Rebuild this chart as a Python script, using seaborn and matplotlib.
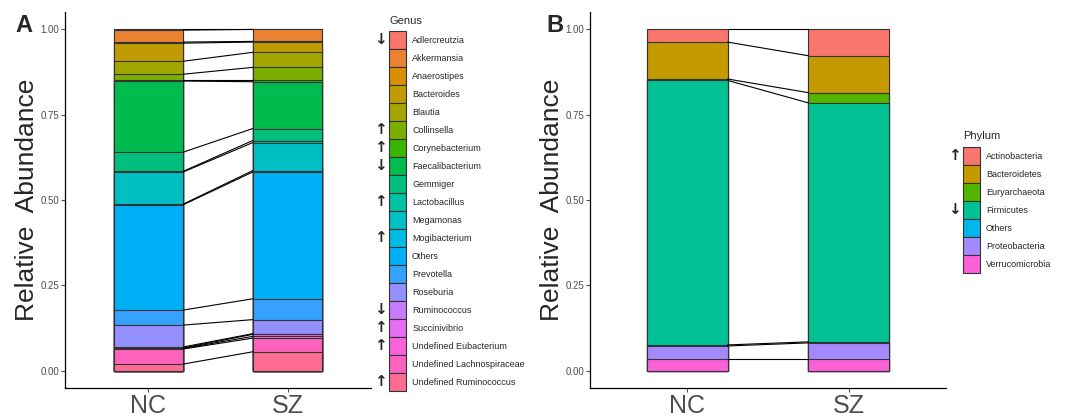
import numpy as np
import pandas as pd
import seaborn as sns
from matplotlib import pyplot as plt
from matplotlib.patches import Patch

sns.set_style('ticks')
plt.rcParams['font.family'] = ['Liberation Sans', 'DejaVu Sans']

groups = ['NC', 'SZ']

# genus level (legend order = stacking order from top)
genus = ['Adlercreutzia', 'Akkermansia', 'Anaerostipes', 'Bacteroides', 'Blautia',
         'Collinsella', 'Corynebacterium', 'Faecalibacterium', 'Gemmiger', 'Lactobacillus',
         'Megamonas', 'Mogibacterium', 'Others', 'Prevotella', 'Roseburia',
         'Ruminococcus', 'Succinivibrio', 'Undefined Eubacterium',
         'Undefined Lachnospiraceae', 'Undefined Ruminococcus']
genus_nc = [0.003, 0.035, 0.003, 0.053, 0.038, 0.018, 0.002, 0.208, 0.056, 0.002,
            0.094, 0.002, 0.308, 0.044, 0.064, 0.003, 0.001, 0.002, 0.044, 0.020]
genus_sz = [0.001, 0.035, 0.002, 0.030, 0.044, 0.038, 0.004, 0.137, 0.035, 0.006,
            0.082, 0.004, 0.371, 0.061, 0.041, 0.002, 0.006, 0.005, 0.040, 0.056]
genus_arrow = ['↓', '', '', '', '', '↑', '↑', '↓', '', '↑',
               '', '↑', '', '', '', '↓', '↑', '↑', '', '↑']

# phylum level
phylum = ['Actinobacteria', 'Bacteroidetes', 'Euryarchaeota', 'Firmicutes',
          'Others', 'Proteobacteria', 'Verrucomicrobia']
phylum_nc = [0.038, 0.108, 0.004, 0.774, 0.003, 0.038, 0.035]
phylum_sz = [0.078, 0.108, 0.030, 0.699, 0.003, 0.047, 0.035]
phylum_arrow = ['↑', '', '', '↓', '', '', '']

# ggplot default hue palettes
genus_colors = ['#F8766D', '#EA8331', '#D89000', '#C09B00', '#A3A500', '#7CAE00', '#39B600',
                '#00BB4E', '#00BF7D', '#00C1A3', '#00BFC4', '#00BAE0', '#00B0F6', '#35A2FF',
                '#9590FF', '#C77CFF', '#E76BF3', '#FA62DB', '#FF62BC', '#FF6C91']
phylum_colors = ['#F8766D', '#C49A00', '#53B400', '#00C094', '#00B6EB', '#A58AFF', '#FB61D7']

edge = '#333333'
grey = '#4D4D4D'


def stacked(ax, names, nc, sz, colors):
    df = pd.DataFrame({'taxon': names * 2,
                       'group': ['NC'] * len(names) + ['SZ'] * len(names),
                       'abundance': nc + sz})
    # cumulative top of each segment (first level sits on top, like ggplot)
    df['top'] = df.iloc[::-1].groupby('group')['abundance'].cumsum()
    for name, col in zip(names, colors):
        sub = df[df['taxon'] == name]
        sns.barplot(data=sub, x='group', y='top', order=groups, color=col,
                    saturation=1, width=0.5, edgecolor=edge, linewidth=0.8,
                    errorbar=None, ax=ax)
    for name in names:
        sub = df[df['taxon'] == name].set_index('group')['top']
        ax.plot([0.25, 0.75], [sub['NC'], sub['SZ']], color='black', lw=0.8, zorder=3)

    ax.set_xlim(-0.6, 1.6)
    ax.set_ylim(-0.05, 1.05)
    ax.set_yticks([0, 0.25, 0.5, 0.75, 1.0])
    ax.set_yticklabels(['0.00', '0.25', '0.50', '0.75', '1.00'])
    ax.set_xlabel('')
    ax.set_ylabel('Relative  Abundance', fontsize=19, labelpad=1)
    ax.tick_params(axis='y', labelsize=7, labelcolor=grey, color=grey, length=3, width=0.8, pad=1)
    ax.tick_params(axis='x', labelsize=18, labelcolor=grey, color=grey, length=3, width=0.8, pad=1)
    sns.despine(ax=ax)
    for s in ['left', 'bottom']:
        ax.spines[s].set_color('black')
        ax.spines[s].set_linewidth(0.9)


def legend(fig, names, colors, title, x, key_top, title_base):
    handles = [Patch(facecolor=c, edgecolor=edge, linewidth=0.8) for c in colors]
    leg = fig.legend(handles, names, loc='upper left', bbox_to_anchor=(x / W, 1 - key_top / H),
                     frameon=False, fontsize=6.5, labelspacing=0.0, handleheight=2.69,
                     handlelength=1.9, handletextpad=0.66, borderpad=0, borderaxespad=0)
    fig.text(x / W, 1 - title_base / H, title, fontsize=8, va='baseline')
    return leg


fig = plt.figure(figsize=(10.66, 4.16), dpi=100)
W, H = 1066, 416
axA = fig.add_axes([65 / W, 28 / H, 306 / W, 376 / H])
axB = fig.add_axes([590 / W, 28 / H, 356 / W, 376 / H])

stacked(axA, genus, genus_nc, genus_sz, genus_colors)
stacked(axB, phylum, phylum_nc, phylum_sz, phylum_colors)

legA = legend(fig, genus, genus_colors, 'Genus', 389, 31, 24)
legB = legend(fig, phylum, phylum_colors, 'Phylum', 963, 147, 139)

fig.text(15 / W, 1 - 32 / H, 'A', fontsize=17, fontweight='bold', va='baseline')
fig.text(546 / W, 1 - 32 / H, 'B', fontsize=17, fontweight='bold', va='baseline')

# up / down arrows next to the legend keys
fig.canvas.draw()
r = fig.canvas.get_renderer()
for leg, arrows in [(legA, genus_arrow), (legB, phylum_arrow)]:
    for p, a in zip(leg.get_patches(), arrows):
        if not a:
            continue
        bb = p.get_window_extent(r)
        fig.text((bb.x0 - 9) / W, (bb.y0 + bb.y1) / 2 / H, a, fontsize=11,
                 fontweight='bold', ha='center', va='center', family='DejaVu Sans')

fig.savefig('out.png', dpi=100)
